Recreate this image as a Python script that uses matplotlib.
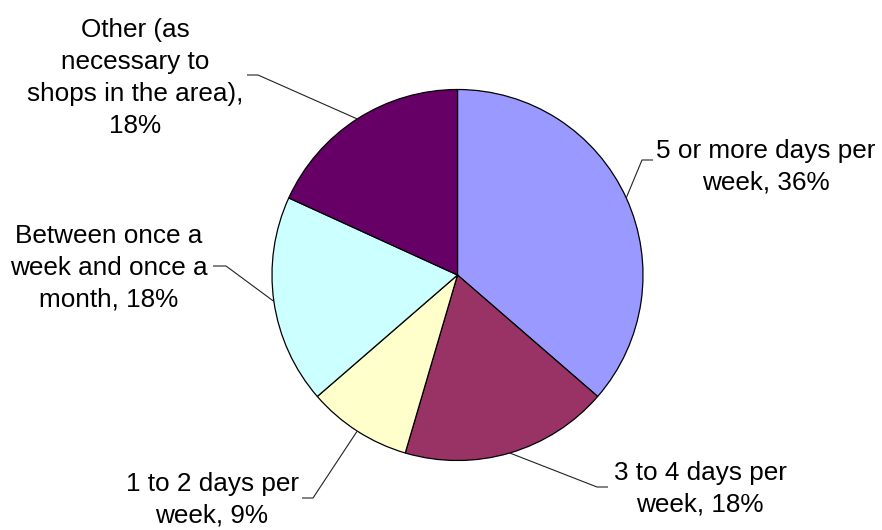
import numpy as np
import matplotlib
matplotlib.use("Agg")
import matplotlib.pyplot as plt

labels = ["5 or more days per\nweek", "3 to 4 days per\nweek", "1 to 2 days per\nweek",
          "Between once a\nweek and once a\nmonth", "Other (as\nnecessary to\nshops in the area),\n"]
values = [4, 2, 1, 2, 2]
pct_text = ["36%", "18%", "9%", "18%", "18%"]
colors = ["#9999FF", "#993366", "#FFFFCC", "#CCFFFF", "#660066"]

W, H = 882, 530
fig = plt.figure(figsize=(W / 100, H / 100), dpi=100)
ax = fig.add_axes([0, 0, 1, 1])

cx, cy, r = 457.5, H - 275, 185.5
wedges, _ = ax.pie(values, colors=colors, startangle=90, counterclock=False,
                   center=(cx, cy), radius=r, frame=True,
                   wedgeprops=dict(edgecolor="black", linewidth=0.9))
ax.set_xlim(0, W)
ax.set_ylim(0, H)
ax.set_aspect("equal")
ax.axis("off")

# label layout (pixel positions, top-origin): text center, elbow point, elbow end
layout = [
    dict(text=(766, 167), elbow=(642, 160), end=(653, 160)),
    dict(text=(700, 489), elbow=(597, 487), end=(608, 487)),
    dict(text=(212, 500), elbow=(313, 498), end=(302, 498)),
    dict(text=(109, 268), elbow=(226, 266), end=(213, 266)),
    dict(text=(135, 78), elbow=(258, 75), end=(247, 75)),
]

font = ["Liberation Sans", "DejaVu Sans"]
for w, lab, pct, lay in zip(wedges, labels, pct_text, layout):
    mid = np.deg2rad((w.theta1 + w.theta2) / 2)
    sx, sy = cx + r * np.cos(mid), cy + r * np.sin(mid)
    ex, ey = lay["elbow"][0], H - lay["elbow"][1]
    hx, hy = lay["end"][0], H - lay["end"][1]
    ax.plot([sx, ex, hx], [sy, ey, hy], color="#222222", lw=0.8, solid_capstyle="butt")
    if lab.endswith("\n"):
        txt = lab + pct
    else:
        txt = lab + ", " + pct
    ax.text(lay["text"][0], H - lay["text"][1], txt, ha="center", va="center",
            multialignment="center", fontsize=18.8, family=font, linespacing=1.42,
            color="black")

fig.savefig("out.png", dpi=100, facecolor="white")
